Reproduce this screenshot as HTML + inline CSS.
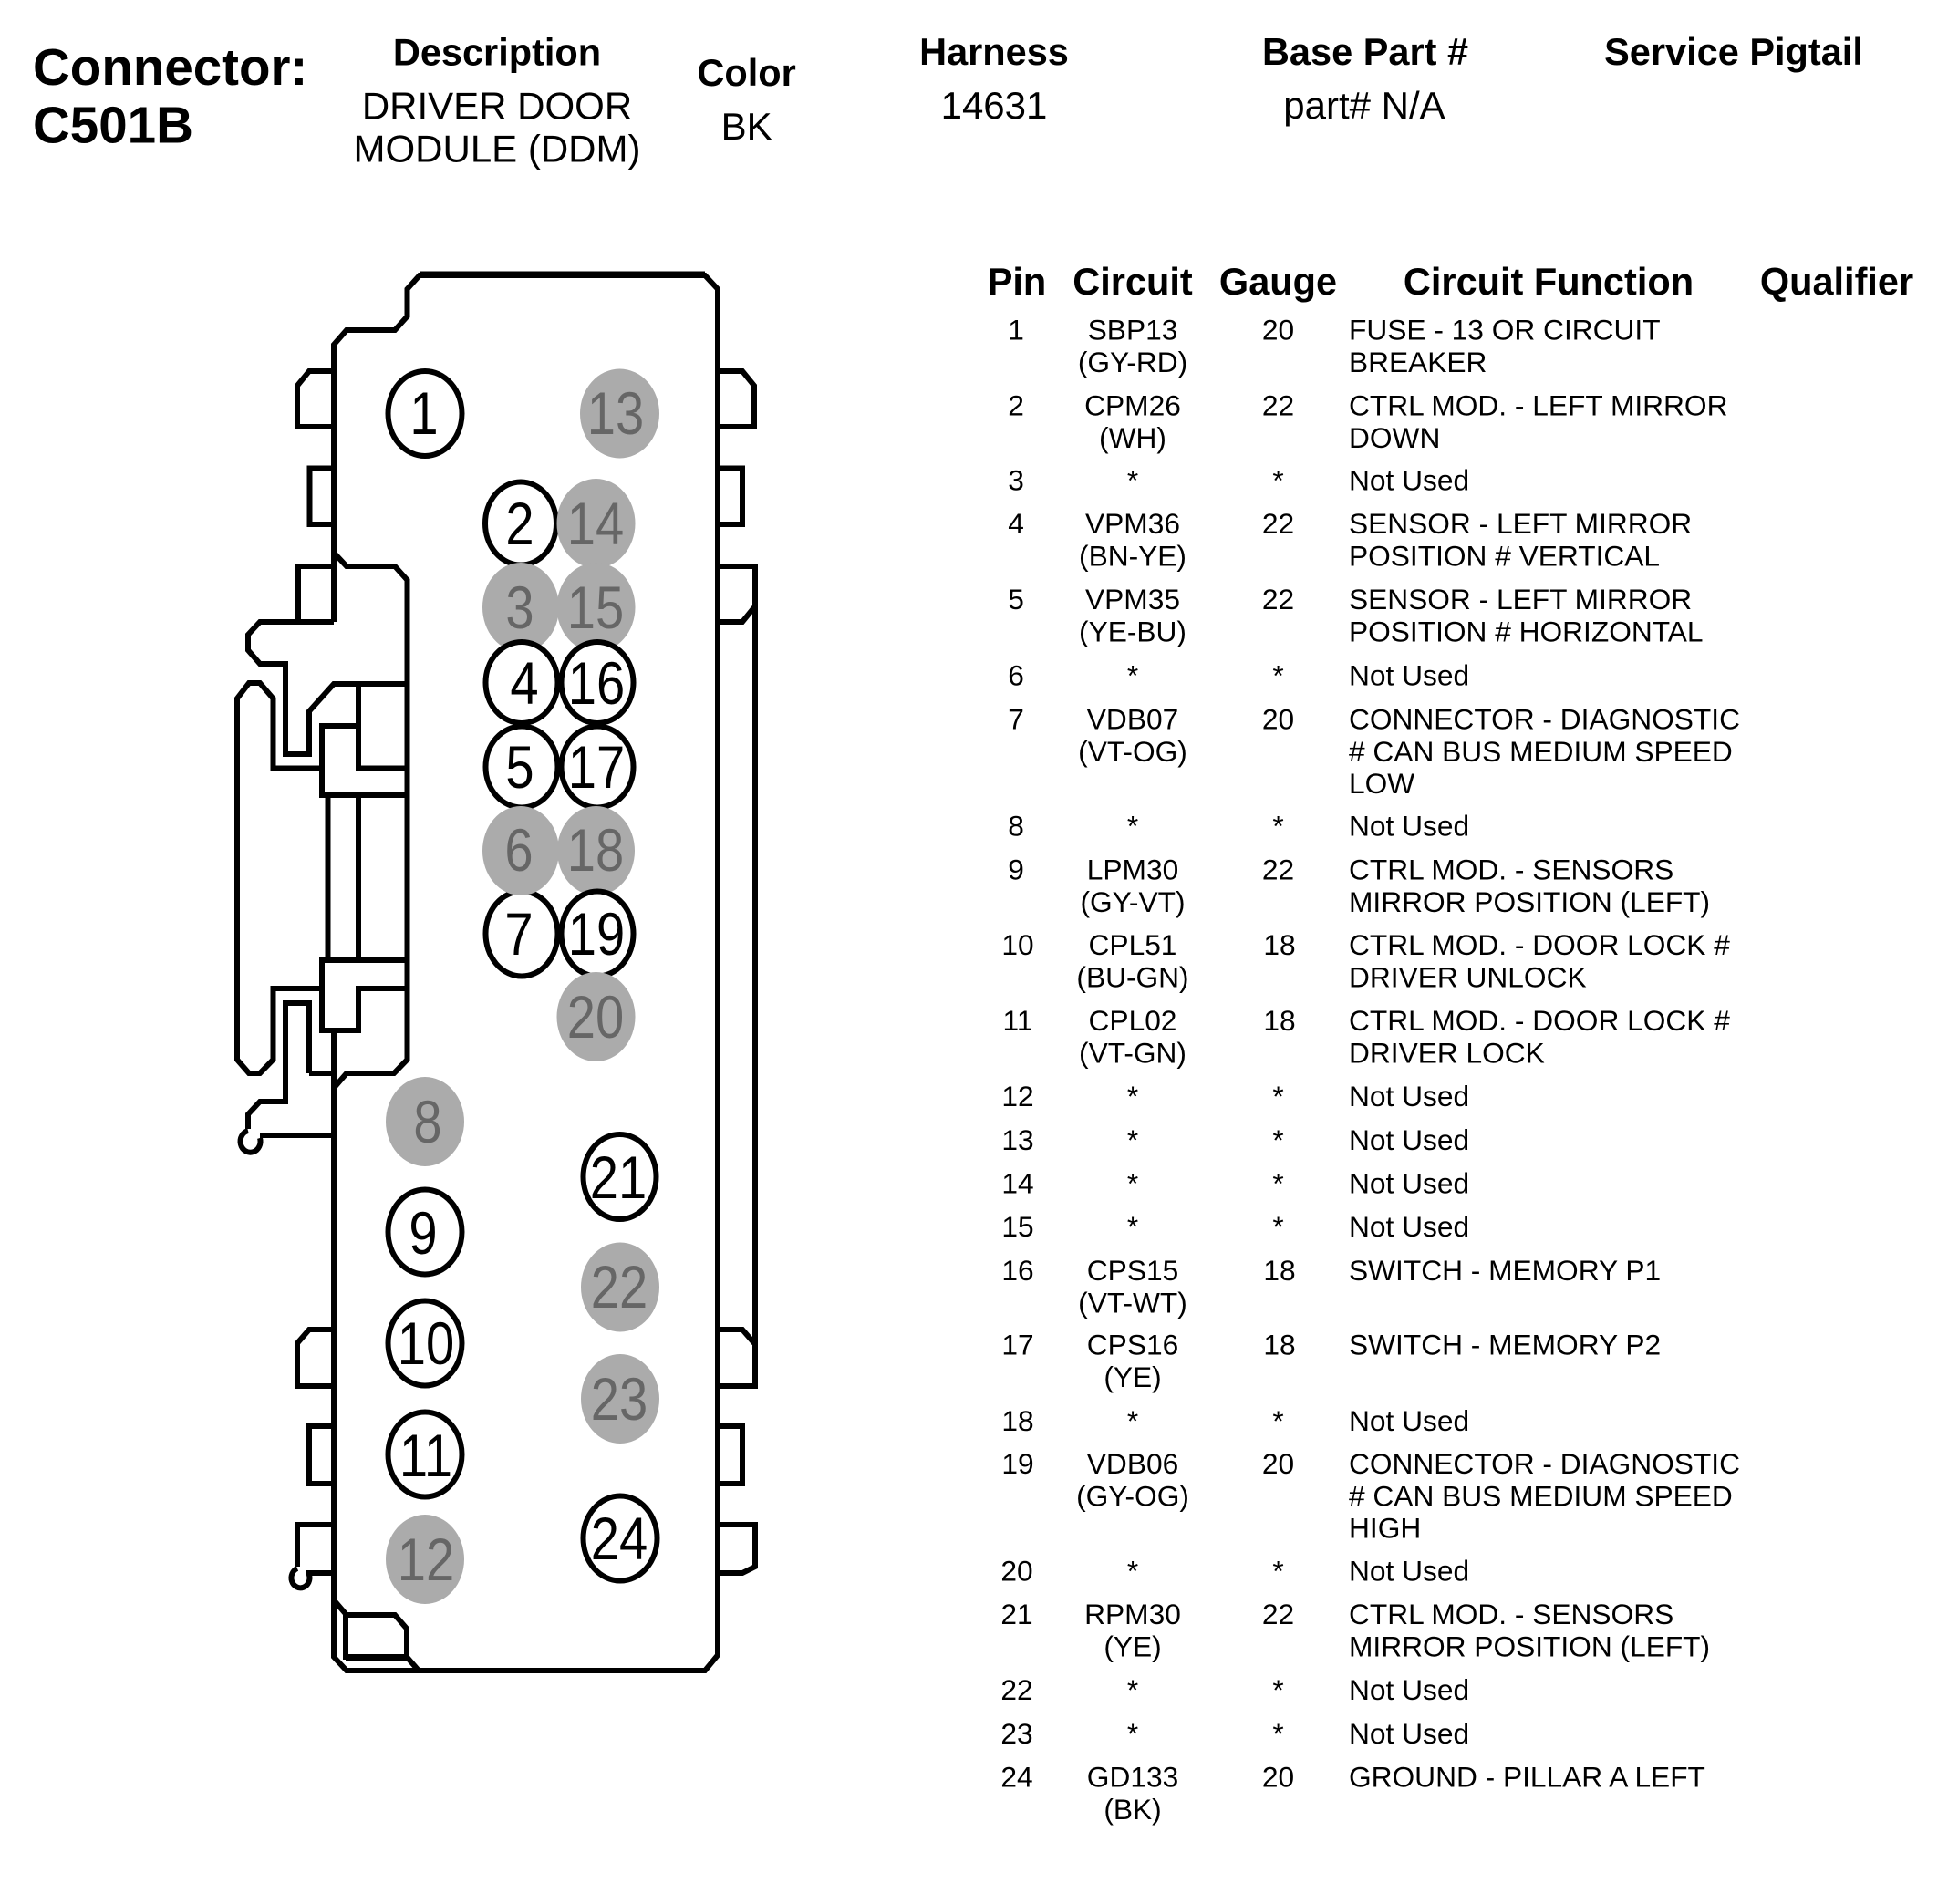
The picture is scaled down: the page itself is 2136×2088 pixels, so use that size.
<!DOCTYPE html>
<html><head><meta charset="utf-8"><style>
html,body{margin:0;padding:0;background:#fff;width:2136px;height:2088px;overflow:hidden}
svg{display:block}
text{font-family:"Liberation Sans",sans-serif;fill:#000}
.h{font-weight:bold;font-size:41.5px;text-anchor:middle}
.v{font-size:42px;text-anchor:middle}
.c{font-weight:bold;font-size:56.5px}
.t{font-size:31.7px}
.m{font-size:31.7px;text-anchor:middle}
.n{font-size:66px;text-anchor:middle}
.g{fill:#666}
path,polyline{fill:none;stroke:#000;stroke-width:6;stroke-linejoin:miter}
.e{fill:#fff;stroke:#000;stroke-width:6}
.d{fill:#ababab;stroke:none}
</style></head><body>
<svg width="2136" height="2088" viewBox="0 0 2136 2088" xmlns="http://www.w3.org/2000/svg">
<rect width="2136" height="2088" fill="#fff"/>
<text class="c" x="36" y="93">Connector:</text>
<text class="c" x="36" y="156.5">C501B</text>
<text class="h" x="545" y="71.5">Description</text>
<text class="v" x="545" y="130.5">DRIVER DOOR</text>
<text class="v" x="545" y="177.5">MODULE (DDM)</text>
<text class="h" x="818.6" y="94">Color</text>
<text class="v" x="818.6" y="153">BK</text>
<text class="h" x="1090" y="71">Harness</text>
<text class="v" x="1090" y="130">14631</text>
<text class="h" x="1497" y="71">Base Part #</text>
<text class="v" x="1496" y="130">part# N/A</text>
<text class="h" x="1901" y="71">Service Pigtail</text>
<text class="h" x="1115" y="323">Pin</text>
<text class="h" x="1242" y="323">Circuit</text>
<text class="h" x="1401.5" y="323">Gauge</text>
<text class="h" x="1698" y="323">Circuit Function</text>
<text class="h" x="2014" y="323">Qualifier</text>

<g>
<!-- body -->
<path d="M366 682V378L380 362H433L446.5 347V317L460 302H773L787 317V1815L773 1832H380L366 1817V1133"/>
<path d="M460 300.5H773" stroke-width="7"/>
<path d="M366 606L380 621H433L446.5 636V1162L432 1177H380L367 1192"/>
<!-- left tabs top -->
<path d="M366 407H339L326 423V468H366"/>
<path d="M366 513.5H339.5V575H366"/>
<path d="M366 621H327V682"/>
<path d="M366 682H285L272 696V713L285 728H313V827H339V780L366 750H446.5"/>
<path d="M353 842.5H299.5V766L285 749H273L260 766V1162L273 1177H285L299.5 1162V1084H353"/>
<path d="M391 796H353V872H446.5"/>
<path d="M393 750V842.5H446.5"/>
<path d="M359.5 872V1053M393 872V1053"/>
<path d="M446.5 1053H353V1130H393V1084H446.5"/>
<!-- lower hook -->
<path d="M339 1177V1100H313V1208H285L272 1222V1238"/>
<path d="M339 1177H366"/>
<path d="M285 1245H366"/>
<path d="M272 1240A11 12 0 1 0 285 1248"/>
<!-- left tabs bottom -->
<path d="M366 1458H339L326 1473V1520H366"/>
<path d="M366 1564H339V1627H366"/>
<path d="M366 1672H326V1718"/>
<path d="M326 1720A10 11 0 1 0 339 1727V1725H366"/>
<!-- right tabs -->
<path d="M787 407H814L827 423V468H787"/>
<path d="M787 513.5H814V575H787"/>
<path d="M787 621H828V1520H787"/>
<path d="M787 682H814L827 666"/>
<path d="M787 1458H814L827 1473"/>
<path d="M787 1564H814V1627H787" stroke-width="7"/>
<path d="M787 1672H828V1718L814 1725H787"/>
<!-- bottom left inner -->
<path d="M368 1757L380 1771H433L446 1786V1817H379V1771"/>
<path d="M379 1818H446" stroke-width="7"/>
<path d="M446 1817L459 1832"/>
</g>

<!-- pins -->
<g>
<ellipse class="e" cx="466" cy="453.5" rx="40.5" ry="46.5"/>
<text class="n" transform="translate(465,476) scale(.85,1)">1</text>
<ellipse class="d" cx="679.5" cy="453.5" rx="43.5" ry="49"/>
<text class="n g" transform="translate(675,476) scale(.85,1)">13</text>

<ellipse class="e" cx="571" cy="574" rx="39" ry="45.5"/>
<text class="n" transform="translate(570,597) scale(.85,1)">2</text>
<ellipse class="d" cx="653.5" cy="574" rx="43" ry="49"/>
<text class="n g" transform="translate(653,597) scale(.85,1)">14</text>
<ellipse class="d" cx="571" cy="666" rx="42" ry="49"/>
<text class="n g" transform="translate(570,689) scale(.85,1)">3</text>
<ellipse class="d" cx="653.5" cy="666" rx="43" ry="49"/>
<text class="n g" transform="translate(653,689) scale(.85,1)">15</text>

<ellipse class="e" cx="572" cy="748.5" rx="39.5" ry="44.5"/>
<text class="n" transform="translate(575,772) scale(.85,1)">4</text>
<ellipse class="e" cx="655" cy="748.5" rx="39.5" ry="44.5"/>
<text class="n" transform="translate(654,772) scale(.85,1)">16</text>
<ellipse class="e" cx="572" cy="841" rx="39.5" ry="44.5"/>
<text class="n" transform="translate(570,864) scale(.85,1)">5</text>
<ellipse class="e" cx="655" cy="841" rx="39.5" ry="44.5"/>
<text class="n" transform="translate(654,864) scale(.85,1)">17</text>

<ellipse class="e" cx="572" cy="1024" rx="39.5" ry="46.5"/>
<text class="n" transform="translate(569,1047) scale(.85,1)">7</text>
<ellipse class="d" cx="571" cy="933" rx="42" ry="49"/>
<text class="n g" transform="translate(569,955) scale(.85,1)">6</text>
<ellipse class="d" cx="653.5" cy="933" rx="42.5" ry="49"/>
<text class="n g" transform="translate(653,955) scale(.85,1)">18</text>
<ellipse class="e" cx="655" cy="1024" rx="39.5" ry="46.5"/>
<text class="n" transform="translate(654,1047) scale(.85,1)">19</text>
<ellipse class="d" cx="653.5" cy="1115" rx="43" ry="49"/>
<text class="n g" transform="translate(653,1138) scale(.85,1)">20</text>

<ellipse class="d" cx="466" cy="1230" rx="43" ry="49"/>
<text class="n g" transform="translate(469,1253) scale(.85,1)">8</text>
<ellipse class="e" cx="679.5" cy="1290.5" rx="40" ry="46.5"/>
<text class="n" transform="translate(678,1314) scale(.85,1)">21</text>
<ellipse class="e" cx="466" cy="1351" rx="40.5" ry="46.5"/>
<text class="n" transform="translate(464,1375) scale(.85,1)">9</text>
<ellipse class="d" cx="680" cy="1411.5" rx="43" ry="49"/>
<text class="n g" transform="translate(679,1434) scale(.85,1)">22</text>
<ellipse class="e" cx="466" cy="1473" rx="40.5" ry="46.5"/>
<text class="n" transform="translate(467,1496) scale(.85,1)">10</text>
<ellipse class="d" cx="680" cy="1534" rx="43" ry="49"/>
<text class="n g" transform="translate(679,1557) scale(.85,1)">23</text>
<ellipse class="e" cx="466" cy="1595" rx="40.5" ry="46.5"/>
<text class="n" transform="translate(467,1619) scale(.85,1)">11</text>
<ellipse class="d" cx="466" cy="1710" rx="43" ry="49"/>
<text class="n g" transform="translate(467,1733) scale(.85,1)">12</text>
<ellipse class="e" cx="680" cy="1687" rx="40.5" ry="46.5"/>
<text class="n" transform="translate(679,1710) scale(.85,1)">24</text>
</g>

<!-- table -->
<g transform="translate(0,-1)">
<text class="m" x="1114" y="373.5">1</text><text class="m" x="1242" y="373.5">SBP13</text><text class="m" x="1242" y="409">(GY-RD)</text><text class="m" x="1401.5" y="373.5">20</text><text class="t" x="1479" y="373.5">FUSE - 13 OR CIRCUIT</text><text class="t" x="1479" y="409">BREAKER</text>
<text class="m" x="1114" y="456.5">2</text><text class="m" x="1242" y="456.5">CPM26</text><text class="m" x="1242" y="492">(WH)</text><text class="m" x="1401.5" y="456.5">22</text><text class="t" x="1479" y="456.5">CTRL MOD. - LEFT MIRROR</text><text class="t" x="1479" y="492">DOWN</text>
<text class="m" x="1114" y="538.5">3</text><text class="m" x="1242" y="538.5">*</text><text class="m" x="1401.5" y="538.5">*</text><text class="t" x="1479" y="538.5">Not Used</text>
<text class="m" x="1114" y="586">4</text><text class="m" x="1242" y="586">VPM36</text><text class="m" x="1242" y="621.5">(BN-YE)</text><text class="m" x="1401.5" y="586">22</text><text class="t" x="1479" y="586">SENSOR - LEFT MIRROR</text><text class="t" x="1479" y="621.5">POSITION # VERTICAL</text>
<text class="m" x="1114" y="669">5</text><text class="m" x="1242" y="669">VPM35</text><text class="m" x="1242" y="704.5">(YE-BU)</text><text class="m" x="1401.5" y="669">22</text><text class="t" x="1479" y="669">SENSOR - LEFT MIRROR</text><text class="t" x="1479" y="704.5">POSITION # HORIZONTAL</text>
<text class="m" x="1114" y="752.5">6</text><text class="m" x="1242" y="752.5">*</text><text class="m" x="1401.5" y="752.5">*</text><text class="t" x="1479" y="752.5">Not Used</text>
<text class="m" x="1114" y="800.5">7</text><text class="m" x="1242" y="800.5">VDB07</text><text class="m" x="1242" y="836">(VT-OG)</text><text class="m" x="1401.5" y="800.5">20</text><text class="t" x="1479" y="800.5">CONNECTOR - DIAGNOSTIC</text><text class="t" x="1479" y="836"># CAN BUS MEDIUM SPEED</text><text class="t" x="1479" y="871">LOW</text>
<text class="m" x="1114" y="917.5">8</text><text class="m" x="1242" y="917.5">*</text><text class="m" x="1401.5" y="917.5">*</text><text class="t" x="1479" y="917.5">Not Used</text>
<text class="m" x="1114" y="965.5">9</text><text class="m" x="1242" y="965.5">LPM30</text><text class="m" x="1242" y="1001">(GY-VT)</text><text class="m" x="1401.5" y="965.5">22</text><text class="t" x="1479" y="965.5">CTRL MOD. - SENSORS</text><text class="t" x="1479" y="1001">MIRROR POSITION (LEFT)</text>
<text class="m" x="1116" y="1048">10</text><text class="m" x="1242" y="1048">CPL51</text><text class="m" x="1242" y="1083.5">(BU-GN)</text><text class="m" x="1403" y="1048">18</text><text class="t" x="1479" y="1048">CTRL MOD. - DOOR LOCK #</text><text class="t" x="1479" y="1083.5">DRIVER UNLOCK</text>
<text class="m" x="1116" y="1131">11</text><text class="m" x="1242" y="1131">CPL02</text><text class="m" x="1242" y="1166.5">(VT-GN)</text><text class="m" x="1403" y="1131">18</text><text class="t" x="1479" y="1131">CTRL MOD. - DOOR LOCK #</text><text class="t" x="1479" y="1166.5">DRIVER LOCK</text>
<text class="m" x="1116" y="1214">12</text><text class="m" x="1242" y="1214">*</text><text class="m" x="1401.5" y="1214">*</text><text class="t" x="1479" y="1214">Not Used</text>
<text class="m" x="1116" y="1262">13</text><text class="m" x="1242" y="1262">*</text><text class="m" x="1401.5" y="1262">*</text><text class="t" x="1479" y="1262">Not Used</text>
<text class="m" x="1116" y="1309.5">14</text><text class="m" x="1242" y="1309.5">*</text><text class="m" x="1401.5" y="1309.5">*</text><text class="t" x="1479" y="1309.5">Not Used</text>
<text class="m" x="1116" y="1357">15</text><text class="m" x="1242" y="1357">*</text><text class="m" x="1401.5" y="1357">*</text><text class="t" x="1479" y="1357">Not Used</text>
<text class="m" x="1116" y="1405">16</text><text class="m" x="1242" y="1405">CPS15</text><text class="m" x="1242" y="1440.5">(VT-WT)</text><text class="m" x="1403" y="1405">18</text><text class="t" x="1479" y="1405">SWITCH - MEMORY P1</text>
<text class="m" x="1116" y="1486.5">17</text><text class="m" x="1242" y="1486.5">CPS16</text><text class="m" x="1242" y="1522">(YE)</text><text class="m" x="1403" y="1486.5">18</text><text class="t" x="1479" y="1486.5">SWITCH - MEMORY P2</text>
<text class="m" x="1116" y="1570">18</text><text class="m" x="1242" y="1570">*</text><text class="m" x="1401.5" y="1570">*</text><text class="t" x="1479" y="1570">Not Used</text>
<text class="m" x="1116" y="1617">19</text><text class="m" x="1242" y="1617">VDB06</text><text class="m" x="1242" y="1652.5">(GY-OG)</text><text class="m" x="1401.5" y="1617">20</text><text class="t" x="1479" y="1617">CONNECTOR - DIAGNOSTIC</text><text class="t" x="1479" y="1652.5"># CAN BUS MEDIUM SPEED</text><text class="t" x="1479" y="1687.5">HIGH</text>
<text class="m" x="1115" y="1734.5">20</text><text class="m" x="1242" y="1734.5">*</text><text class="m" x="1401.5" y="1734.5">*</text><text class="t" x="1479" y="1734.5">Not Used</text>
<text class="m" x="1115" y="1782">21</text><text class="m" x="1242" y="1782">RPM30</text><text class="m" x="1242" y="1817.5">(YE)</text><text class="m" x="1401.5" y="1782">22</text><text class="t" x="1479" y="1782">CTRL MOD. - SENSORS</text><text class="t" x="1479" y="1817.5">MIRROR POSITION (LEFT)</text>
<text class="m" x="1115" y="1865">22</text><text class="m" x="1242" y="1865">*</text><text class="m" x="1401.5" y="1865">*</text><text class="t" x="1479" y="1865">Not Used</text>
<text class="m" x="1115" y="1913">23</text><text class="m" x="1242" y="1913">*</text><text class="m" x="1401.5" y="1913">*</text><text class="t" x="1479" y="1913">Not Used</text>
<text class="m" x="1115" y="1960.5">24</text><text class="m" x="1242" y="1960.5">GD133</text><text class="m" x="1242" y="1996">(BK)</text><text class="m" x="1401.5" y="1960.5">20</text><text class="t" x="1479" y="1960.5">GROUND - PILLAR A LEFT</text>
</g>
</svg>
</body></html>
